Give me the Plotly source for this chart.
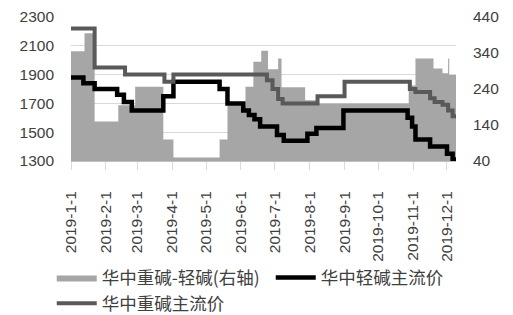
import plotly.graph_objects as go

# 华中轻碱主流价 (left axis) - step breakpoints
light_dates = ["2019-01-01", "2019-01-12", "2019-01-22", "2019-02-11", "2019-02-17", "2019-02-24",
               "2019-03-24", "2019-04-02", "2019-05-13", "2019-05-20", "2019-06-03", "2019-06-08",
               "2019-06-13", "2019-06-18", "2019-07-03", "2019-07-09", "2019-07-30", "2019-08-07",
               "2019-08-31", "2019-10-27", "2019-10-31", "2019-11-03", "2019-11-16", "2019-12-01",
               "2019-12-06", "2019-12-09"]
light_vals = [1880, 1840, 1800, 1760, 1710, 1650,
              1750, 1850, 1800, 1700, 1650, 1620,
              1590, 1540, 1480, 1440, 1490, 1530,
              1650, 1600, 1540, 1450, 1400, 1350,
              1310, 1310]

# 华中重碱主流价 (left axis)
heavy_dates = ["2019-01-01", "2019-01-22", "2019-02-18", "2019-03-25", "2019-04-02", "2019-06-24",
               "2019-06-29", "2019-07-04", "2019-07-08", "2019-08-08", "2019-09-01", "2019-10-29",
               "2019-11-03", "2019-11-16", "2019-11-20", "2019-11-27", "2019-12-02", "2019-12-06",
               "2019-12-09"]
heavy_vals = [2220, 1950, 1900, 1850, 1900, 1860,
              1800, 1730, 1700, 1750, 1850, 1800,
              1780, 1735, 1710, 1690, 1650, 1610,
              1610]

# 华中重碱-轻碱 (right axis)
diff_dates = ["2019-01-01", "2019-01-13", "2019-01-22", "2019-02-12", "2019-02-27", "2019-03-24",
              "2019-04-02", "2019-05-13", "2019-05-20", "2019-06-05", "2019-06-12", "2019-06-19",
              "2019-06-25", "2019-07-04", "2019-07-07", "2019-07-28", "2019-08-07", "2019-10-28",
              "2019-11-03", "2019-11-19", "2019-11-27", "2019-12-02", "2019-12-03", "2019-12-09"]
diff_vals = [345, 395, 150, 195, 246, 100,
             50, 100, 195, 246, 316, 346,
             295, 325, 245, 209, 200, 250,
             325, 297, 284, 325, 279, 279]

left_ticks = [1300, 1500, 1700, 1900, 2100, 2300]
right_ticks = [40, 140, 240, 340, 440]

FONT = "Liberation Sans, Arial, sans-serif"
CJK = "Noto Sans CJK SC, sans-serif"

fig = go.Figure()
fig.add_trace(go.Scatter(
    x=diff_dates, y=diff_vals, name="华中重碱-轻碱(右轴)", yaxis="y",
    mode="lines", line=dict(shape="hv", width=0, color="#a6a6a6"),
    fill="tozeroy", fillcolor="#a6a6a6"))
fig.add_trace(go.Scatter(
    x=light_dates, y=light_vals, name="华中轻碱主流价", yaxis="y2",
    mode="lines", line=dict(shape="hv", width=4.5, color="#000000")))
fig.add_trace(go.Scatter(
    x=heavy_dates, y=heavy_vals, name="华中重碱主流价", yaxis="y2",
    mode="lines", line=dict(shape="hv", width=4, color="#595959")))

fig.update_layout(
    width=513, height=315,
    margin=dict(l=71, r=57, t=17, b=154, autoexpand=False),
    paper_bgcolor="white", plot_bgcolor="white",
    font=dict(family=FONT, size=15.5, color="#404040"),
    showlegend=True,
    legend=dict(orientation="h", x=-0.05, xanchor="left", y=-0.685, yanchor="top",
                font=dict(family=CJK, size=17.5, color="#404040"),
                entrywidth=164, tracegroupgap=0, itemwidth=40,
                bgcolor="rgba(0,0,0,0)"),
    xaxis=dict(type="date", range=["2019-01-01", "2019-12-09"],
               tick0="2019-01-01", dtick="M1", tickformat="%Y-%-m-%-d",
               tickangle=-90, showgrid=False, showline=True, linecolor="#bfbfbf",
               ticks="outside", ticklen=8, tickcolor="#d9d9d9", ticklabelstandoff=15,
               automargin=False,
               tickfont=dict(family=FONT, size=15.5, color="#404040")),
    yaxis=dict(side="right", range=[40, 440], tickvals=right_ticks, showgrid=False,
               zeroline=False, showline=False, ticks="", ticklabelstandoff=16,
               automargin=False,
               tickfont=dict(family=FONT, size=15.5, color="#404040")),
    yaxis2=dict(side="left", overlaying="y", range=[1300, 2300], tickvals=left_ticks,
                showgrid=True, gridcolor="#d9d9d9", gridwidth=1, zeroline=False,
                showline=False, ticks="", ticklabelstandoff=16, automargin=False,
                tickfont=dict(family=FONT, size=15.5, color="#404040")),
)

fig.write_html("out.html")
